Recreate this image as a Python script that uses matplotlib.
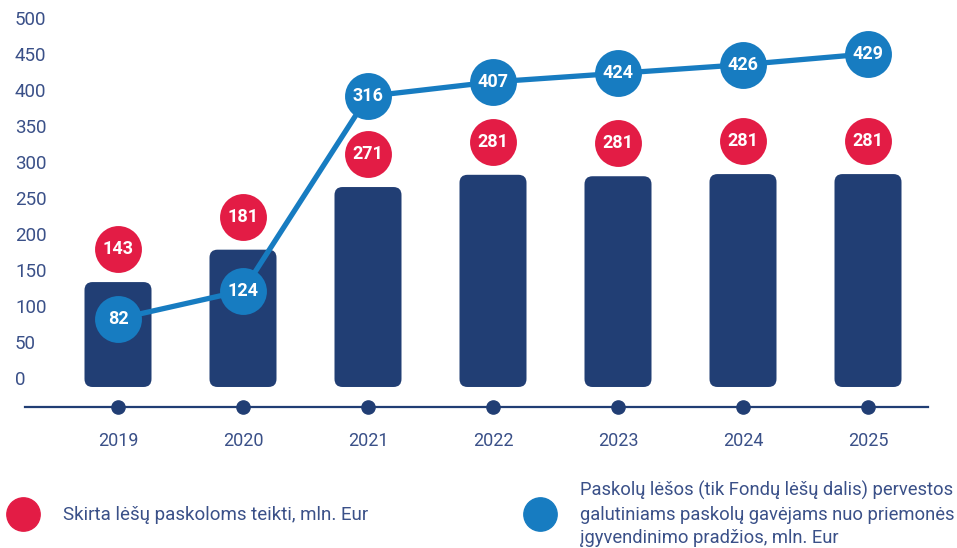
import numpy as np
import matplotlib.pyplot as plt
from matplotlib.patches import FancyBboxPatch
import matplotlib.transforms as mtransforms

plt.rcParams['font.family'] = ['Roboto', 'DejaVu Sans']

# data
years = ['2019', '2020', '2021', '2022', '2023', '2024', '2025']
allocated = [143, 181, 271, 281, 281, 281, 281]          # red labels
bar_top = [136, 181, 268, 285, 283, 286, 286]            # bar heights as drawn
paid = [82, 124, 316, 407, 424, 426, 429]                # blue labels
paid_drawn = [85, 124, 394, 414, 426, 438, 453]          # blue line as drawn
yticks = [0, 50, 100, 150, 200, 250, 300, 350, 400, 450, 500]

navy = '#213e74'
red = '#e31c45'
blue = '#177cc1'
txt = '#3a5088'

fig = plt.figure(figsize=(9.57, 5.48), dpi=100)
ax = fig.add_axes([0, 0, 1, 1])
ax.axis('off')
ax.set_xlim(-118 / 125, (957 - 118) / 125)
ax.set_ylim((380 - 548) / 0.72, 380 / 0.72)

x = np.arange(len(years))

# rounded bars
bw = 0.536
base = -9.7
r = 0.064
for xi, h in zip(x, bar_top):
    p = FancyBboxPatch((xi - bw / 2, base), bw, h - base,
                       boxstyle='round,pad=0,rounding_size=%f' % r,
                       mutation_aspect=(8 / 0.72) / r,
                       fc=navy, ec='none', zorder=2)
    ax.add_patch(p)

# red value circles above bars
red_y = np.array(bar_top) + 46
ax.scatter(x, red_y, s=1140, color=red, zorder=3, linewidths=0)
for xi, yi, v in zip(x, red_y, allocated):
    ax.text(xi, yi, str(v), color='white', fontsize=13, fontweight='bold',
            ha='center', va='center', zorder=4)

# blue line
ax.plot(x, paid_drawn, color=blue, lw=3.8, zorder=5, solid_capstyle='round')
ax.scatter(x, paid_drawn, s=1140, color=blue, zorder=6, linewidths=0)
for xi, yi, v in zip(x, paid_drawn, paid):
    ax.text(xi, yi, str(v), color='white', fontsize=13, fontweight='bold',
            ha='center', va='center', zorder=7)

# bottom axis line with dots
axis_y = (380 - 407) / 0.72
ax.plot([(25 - 118) / 125, (928 - 118) / 125], [axis_y, axis_y], color=navy, lw=1.6, zorder=2)
ax.plot(x, [axis_y] * len(x), 'o', color=navy, ms=9.5, zorder=3)
for xi, yr in zip(x, years):
    ax.text(xi, (380 - 441) / 0.72, yr, color=txt, fontsize=13,
            ha='center', va='center')

# y tick labels
trans = mtransforms.blended_transform_factory(ax.transAxes, ax.transData)
for t in yticks:
    ax.text(15 / 957, t, str(t), color=txt, fontsize=13.5,
            ha='left', va='center', transform=trans)

# legend
ax.plot([23 / 957], [1 - 514 / 548], 'o', ms=24, color=red, transform=ax.transAxes, clip_on=False)
ax.text(63 / 957, 1 - 515 / 548, 'Skirta lėšų paskoloms teikti, mln. Eur', color=txt,
        fontsize=13.5, ha='left', va='center', transform=ax.transAxes)
ax.plot([540 / 957], [1 - 514 / 548], 'o', ms=24, color=blue, transform=ax.transAxes, clip_on=False)
ax.text(580 / 957, 1 - 514 / 548,
        'Paskolų lėšos (tik Fondų lėšų dalis) pervestos\n'
        'galutiniams paskolų gavėjams nuo priemonės\n'
        'įgyvendinimo pradžios, mln. Eur',
        color=txt, fontsize=13.2, ha='left', va='center', linespacing=1.4,
        transform=ax.transAxes)

plt.savefig('out.png', dpi=100)
